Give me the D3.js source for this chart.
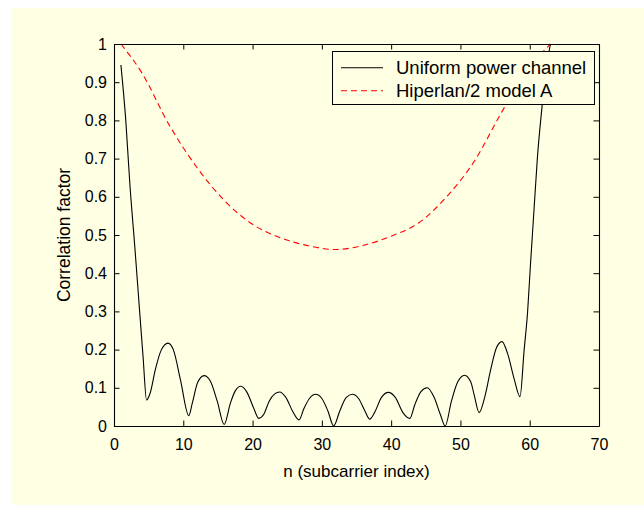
<!DOCTYPE html>
<html lang="en">
<head>
  <meta charset="UTF-8">
  <script src="https://d3js.org/d3.v7.min.js"></script>
  <title>Correlation factor</title>
  <style>
    body { margin: 0; background: #fff; }
    text { font-family: "Liberation Sans", Arial, sans-serif; fill: #000; }
  </style>
</head>
<body>
  <div id="chart"></div>
  <script>
    // uniform power channel (black solid)
    const uniformN = [1, 1.7, 2.3, 3.0, 3.7, 4.2, 4.7, 5.2, 6.0, 6.8, 7.8, 8.6, 9.6, 10.8, 11.3, 12.1, 13.0, 13.9, 14.9, 15.9,
      16.8, 17.5, 18.3, 19.2, 20.2, 20.9, 21.6, 22.4, 23.2, 23.9, 24.8, 25.8, 26.7, 27.4, 28.2, 29.1, 30.0, 30.9, 31.7,
      32.6, 33.5, 34.4, 35.3, 36.2, 36.9, 37.6, 38.6, 39.6, 40.6, 41.7, 42.7, 43.4, 44.3, 45.2, 46.2, 47.1, 47.8,
      48.7, 49.6, 50.6, 51.5, 52.0, 52.7, 53.5, 54.4, 55.2, 56.0, 56.8, 57.8, 58.6, 59.2, 59.7, 60.1, 60.6, 61.1, 61.8, 62.4, 63.0];
    const uniformVal = [0.945, 0.80, 0.63, 0.47, 0.30, 0.18, 0.068, 0.085, 0.15, 0.198, 0.217, 0.198, 0.12, 0.027, 0.06, 0.115, 0.132, 0.118, 0.065, 0.004,
      0.06, 0.092, 0.104, 0.088, 0.045, 0.02, 0.03, 0.065, 0.084, 0.089, 0.075, 0.038, 0.016, 0.045, 0.072, 0.083, 0.072, 0.038, 0.0,
      0.04, 0.074, 0.083, 0.072, 0.04, 0.018, 0.035, 0.075, 0.088, 0.075, 0.035, 0.02, 0.055, 0.09, 0.10, 0.075, 0.03, 0.0,
      0.065, 0.115, 0.133, 0.115, 0.08, 0.035, 0.075, 0.15, 0.205, 0.221, 0.19, 0.12, 0.077, 0.2, 0.3, 0.42, 0.56, 0.70, 0.84, 0.94, 1.0];

    // Hiperlan/2 model A (red dashed)
    const hiperN = [1, 4, 8, 12, 16, 20, 24, 28, 32, 36, 40, 44, 48, 52, 56, 60, 63];
    const hiperVal = [1.0, 0.925, 0.787, 0.676, 0.589, 0.528, 0.493, 0.472, 0.462, 0.473, 0.497, 0.532, 0.60, 0.693, 0.823, 0.94, 1.0];

    const xTicks = [0, 10, 20, 30, 40, 50, 60, 70];
    const yTicks = [0, 0.1, 0.2, 0.3, 0.4, 0.5, 0.6, 0.7, 0.8, 0.9, 1];
    const legendLabels = ["Uniform power channel", "Hiperlan/2 model A"];

    const W = 644, H = 505;
    const plotL = 114, plotR = 599, plotT = 44, plotB = 426;
    const cream = "#ffffe4";

    const svg = d3.select("#chart").append("svg")
      .attr("width", W).attr("height", H);

    // figure background
    svg.append("rect").attr("x", 12).attr("y", 8)
      .attr("width", W - 12).attr("height", H - 8).attr("fill", cream);

    const x = d3.scaleLinear().domain([0, 70]).range([plotL, plotR]);
    const y = d3.scaleLinear().domain([0, 1]).range([plotB, plotT]);

    const tick = 5.5;
    const fmt = d => d3.format("~g")(d);

    // curves
    const toPts = (ns, vs) => ns.map((n, i) => [n, vs[i]]);
    const line = d3.line().x(d => x(d[0])).y(d => y(d[1])).curve(d3.curveMonotoneX);

    svg.append("path").datum(toPts(uniformN, uniformVal))
      .attr("d", line).attr("fill", "none").attr("stroke", "#000").attr("stroke-width", 1.1);

    svg.append("path").datum(toPts(hiperN, hiperVal))
      .attr("d", line).attr("fill", "none").attr("stroke", "#ff0000")
      .attr("stroke-width", 1.1).attr("stroke-dasharray", "6,4");

    // axes box with inward ticks on all four sides
    const axisDraw = (gen, tx, ty) => svg.append("g")
      .attr("transform", `translate(${tx},${ty})`)
      .call(gen);

    const xb = axisDraw(d3.axisBottom(x).tickValues(xTicks).tickSizeInner(-tick).tickSizeOuter(0).tickPadding(13).tickFormat(fmt), 0, plotB);
    const xt = axisDraw(d3.axisTop(x).tickValues(xTicks).tickSizeInner(-tick).tickSizeOuter(0).tickFormat(""), 0, plotT);
    const yl = axisDraw(d3.axisLeft(y).tickValues(yTicks).tickSizeInner(-tick).tickSizeOuter(0).tickPadding(7).tickFormat(fmt), plotL, 0);
    const yr = axisDraw(d3.axisRight(y).tickValues(yTicks).tickSizeInner(-tick).tickSizeOuter(0).tickFormat(""), plotR, 0);

    [xb, xt, yl, yr].forEach(g => {
      g.select(".domain").attr("stroke", "#000").attr("stroke-width", 1.1);
      g.selectAll(".tick line").attr("stroke", "#000");
      g.selectAll("text").attr("font-size", 16).attr("font-family", "Liberation Sans, Arial, sans-serif").attr("fill", "#000");
    });
    xb.selectAll("text").attr("dy", "0.71em");

    // axis labels
    svg.append("text").attr("x", (plotL + plotR) / 2).attr("y", 477)
      .attr("text-anchor", "middle").attr("font-size", 17).text("n (subcarrier index)");
    svg.append("text")
      .attr("transform", `translate(70,${(plotT + plotB) / 2}) rotate(-90)`)
      .attr("text-anchor", "middle").attr("font-size", 17.5).text("Correlation factor");

    // legend
    const lg = svg.append("g");
    lg.append("rect").attr("x", 332.5).attr("y", 51.5).attr("width", 262).attr("height", 53)
      .attr("fill", cream).attr("stroke", "#000").attr("stroke-width", 1);
    const styles = [{ c: "#000", d: null }, { c: "#ff0000", d: "6,4" }];
    legendLabels.forEach((lab, i) => {
      const yy = 67.7 + i * 23;
      lg.append("line").attr("x1", 341).attr("x2", 383).attr("y1", yy).attr("y2", yy)
        .attr("stroke", styles[i].c).attr("stroke-width", 1.1).attr("stroke-dasharray", styles[i].d);
      lg.append("text").attr("x", 396).attr("y", yy).attr("dy", "0.35em")
        .attr("font-size", 18.5).text(lab);
    });
  </script>
</body>
</html>
